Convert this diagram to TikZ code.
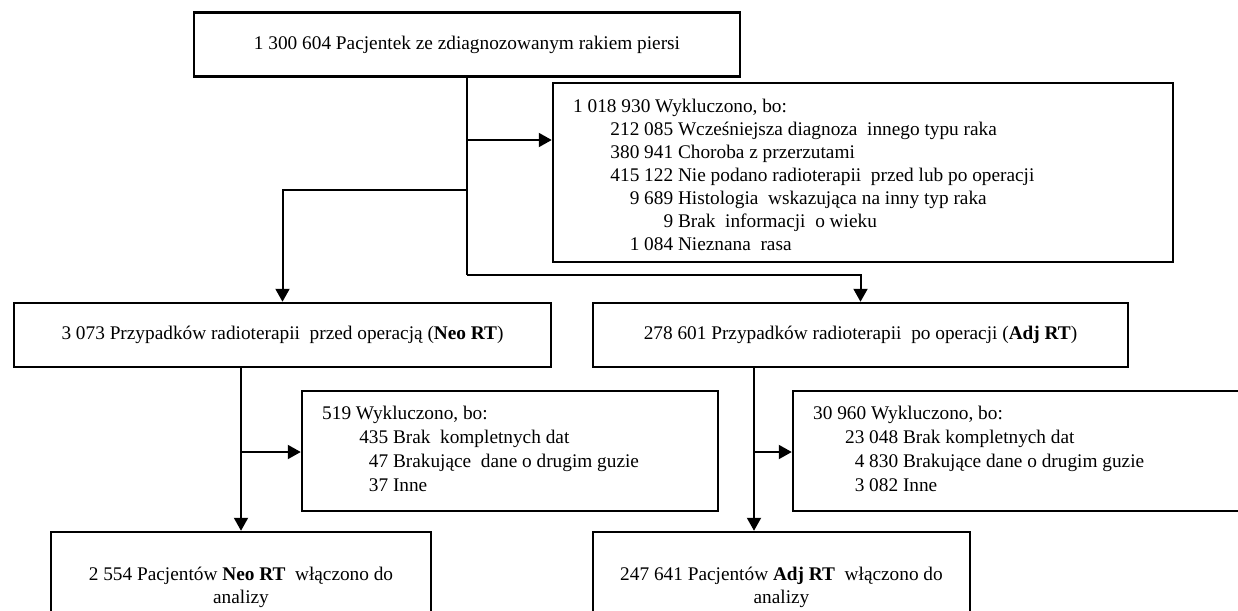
\documentclass[tikz,border=0pt]{standalone}
\usepackage{fontspec}
\setmainfont{Liberation Serif}
\usetikzlibrary{arrows.meta}
\newcommand\fsz{\fontsize{19.3}{23}\selectfont}
\newcommand\numcol[2]{\makebox[#1][r]{#2}\ }
\begin{document}
\begin{tikzpicture}[x=1pt,y=-1pt,
  box/.style={draw, line width=2.5pt, inner sep=0pt, font=\fsz},
  txt/.style={inner sep=0pt, font=\fsz},
  conn/.style={line width=2pt},
  arr/.style={line width=2pt, -{Triangle[length=13pt,width=14pt]}}]
\useasboundingbox (0,0) rectangle (1238,610);
\clip (0,0) rectangle (1238,610);
% boxes
\node[box, minimum width=546pt, minimum height=64pt] (top) at (467,44.5) {1 300 604 Pacjentek ze zdiagnozowanym rakiem piersi};
\node[box, minimum width=620pt, minimum height=179pt] (excl) at (863,172.5) {};
\node[box, minimum width=537pt, minimum height=64pt] (neo) at (282.5,335) {3 073 Przypadków radioterapii\ \ przed operacją (\textbf{Neo RT})};
\node[box, minimum width=535pt, minimum height=64pt] (adj) at (860.5,335) {278 601 Przypadków radioterapii\ \ po operacji (\textbf{Adj RT})};
\node[box, minimum width=416pt, minimum height=120pt] (excltwo) at (510,451) {};
\node[box, minimum width=467pt, minimum height=120pt] (exclthree) at (1026.5,451) {};
\node[box, minimum width=380pt, minimum height=108pt] (neofin) at (241,586) {};
\node[box, minimum width=377pt, minimum height=108pt] (adjfin) at (781.5,586) {};
% exclusion text 1
\node[txt, anchor=base west] (ea) at (573,112) {1 018 930 Wykluczono, bo:};
\node[txt, anchor=base west] (eb) at (573,135) {\numcol{100pt}{212 085}Wcześniejsza diagnoza\ \ innego typu raka};
\node[txt, anchor=base west] (ec) at (573,158) {\numcol{100pt}{380 941}Choroba z przerzutami};
\node[txt, anchor=base west] (ed) at (573,181) {\numcol{100pt}{415 122}Nie podano radioterapii\ \ przed lub po operacji};
\node[txt, anchor=base west] (ee) at (573,204) {\numcol{100pt}{9 689}Histologia\ \ wskazująca na inny typ raka};
\node[txt, anchor=base west] (ef) at (573,227) {\numcol{100pt}{9}Brak\ \ informacji\ \ o wieku};
\node[txt, anchor=base west] (eg) at (573,250) {\numcol{100pt}{1 084}Nieznana\ \ rasa};
% exclusion text 2
\node[txt, anchor=base west] (fa) at (322,419) {519 Wykluczono, bo:};
\node[txt, anchor=base west] (fb) at (322,443) {\numcol{66pt}{435}Brak\ \ kompletnych dat};
\node[txt, anchor=base west] (fc) at (322,467) {\numcol{66pt}{47}Brakujące\ \ dane o drugim guzie};
\node[txt, anchor=base west] (fd) at (322,491) {\numcol{66pt}{37}Inne};
% exclusion text 3
\node[txt, anchor=base west] (ga) at (813,419) {30 960 Wykluczono, bo:};
\node[txt, anchor=base west] (gb) at (813,443) {\numcol{85pt}{23 048}Brak kompletnych dat};
\node[txt, anchor=base west] (gc) at (813,467) {\numcol{85pt}{4 830}Brakujące dane o drugim guzie};
\node[txt, anchor=base west] (gd) at (813,491) {\numcol{85pt}{3 082}Inne};
% final texts
\node[txt, anchor=base] (na) at (241,580) {2 554 Pacjentów \textbf{Neo RT}\ \ włączono do};
\node[txt, anchor=base] (nb) at (241,603) {analizy};
\node[txt, anchor=base] (aa) at (781.5,580) {247 641 Pacjentów \textbf{Adj RT}\ \ włączono do};
\node[txt, anchor=base] (ab) at (781.5,603) {analizy};
% connectors
\coordinate (jexcl) at (467,140);
\coordinate (jneo) at (467,190);
\coordinate (jadj) at (467,275);
\coordinate (dadj) at (754,0);
\coordinate (nbr) at (241,452);
\coordinate (abr) at (754,452);
\draw[conn] (top.south) -- (jadj);
\draw[arr] (jexcl) -- (excl.west |- jexcl);
\draw[arr] (jneo) -| (neo.north);
\draw[arr] (jadj) -| (adj.north);
\draw[arr] (neofin.north |- neo.south) -- (neofin.north);
\draw[arr] (nbr) -- (excltwo.west |- nbr);
\draw[arr] (dadj |- adj.south) -- (dadj |- adjfin.north);
\draw[arr] (abr) -- (exclthree.west |- abr);
\end{tikzpicture}
\end{document}
